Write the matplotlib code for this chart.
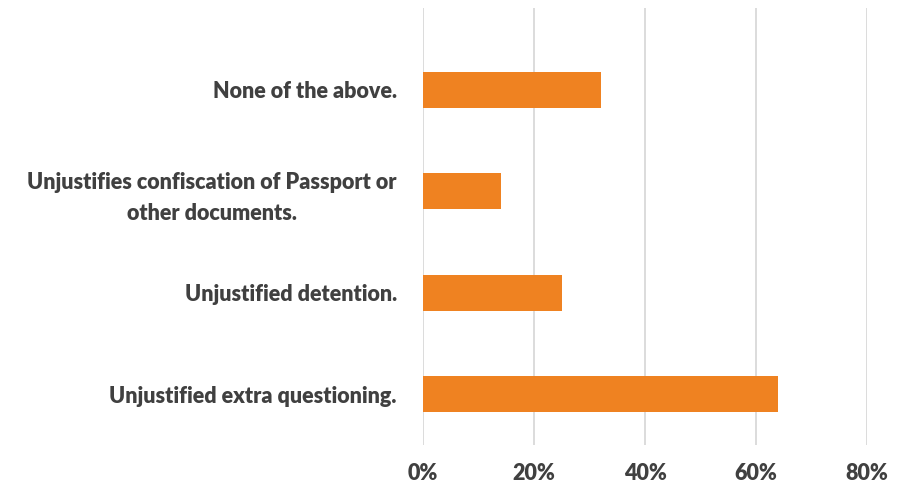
import matplotlib
matplotlib.use("Agg")
import matplotlib.pyplot as plt
from matplotlib.ticker import FuncFormatter

categories = [
    "Unjustified extra questioning.",
    "Unjustified detention.",
    "Unjustifies confiscation of Passport or\nother documents.",
    "None of the above.",
]
values = [0.64, 0.25, 0.14, 0.32]
x_ticks = [0.0, 0.2, 0.4, 0.6, 0.8]

bar_color = "#EF8221"
grid_color = "#D9D9D9"
text_color = "#404040"

plt.rcParams["font.family"] = ["Lato", "DejaVu Sans"]

fig = plt.figure(figsize=(9.07, 4.86), dpi=100)
ax = fig.add_axes([0.4664, 0.0844, 0.4895, 0.8991])

pos = list(range(len(categories)))
ax.barh(pos, values, height=0.355, color=bar_color, zorder=3)

ax.set_xlim(0, 0.8)
ax.set_ylim(-0.5, 3.805)
ax.set_xticks(x_ticks)
ax.xaxis.set_major_formatter(FuncFormatter(lambda v, _: f"{v*100:.0f}%"))
ax.set_yticks(pos)
ax.set_yticklabels(categories, ha="right", multialignment="center",
                   linespacing=1.55)

ax.grid(axis="x", color=grid_color, linewidth=1.3, zorder=0)
ax.grid(axis="y", visible=False)
for s in ax.spines.values():
    s.set_visible(False)
ax.tick_params(axis="both", length=0, labelsize=15.5, labelcolor=text_color)
ax.tick_params(axis="y", pad=19)
ax.tick_params(axis="x", pad=13)
for lab in ax.get_xticklabels() + ax.get_yticklabels():
    lab.set_fontweight("heavy")

fig.savefig("out.png", dpi=100)
